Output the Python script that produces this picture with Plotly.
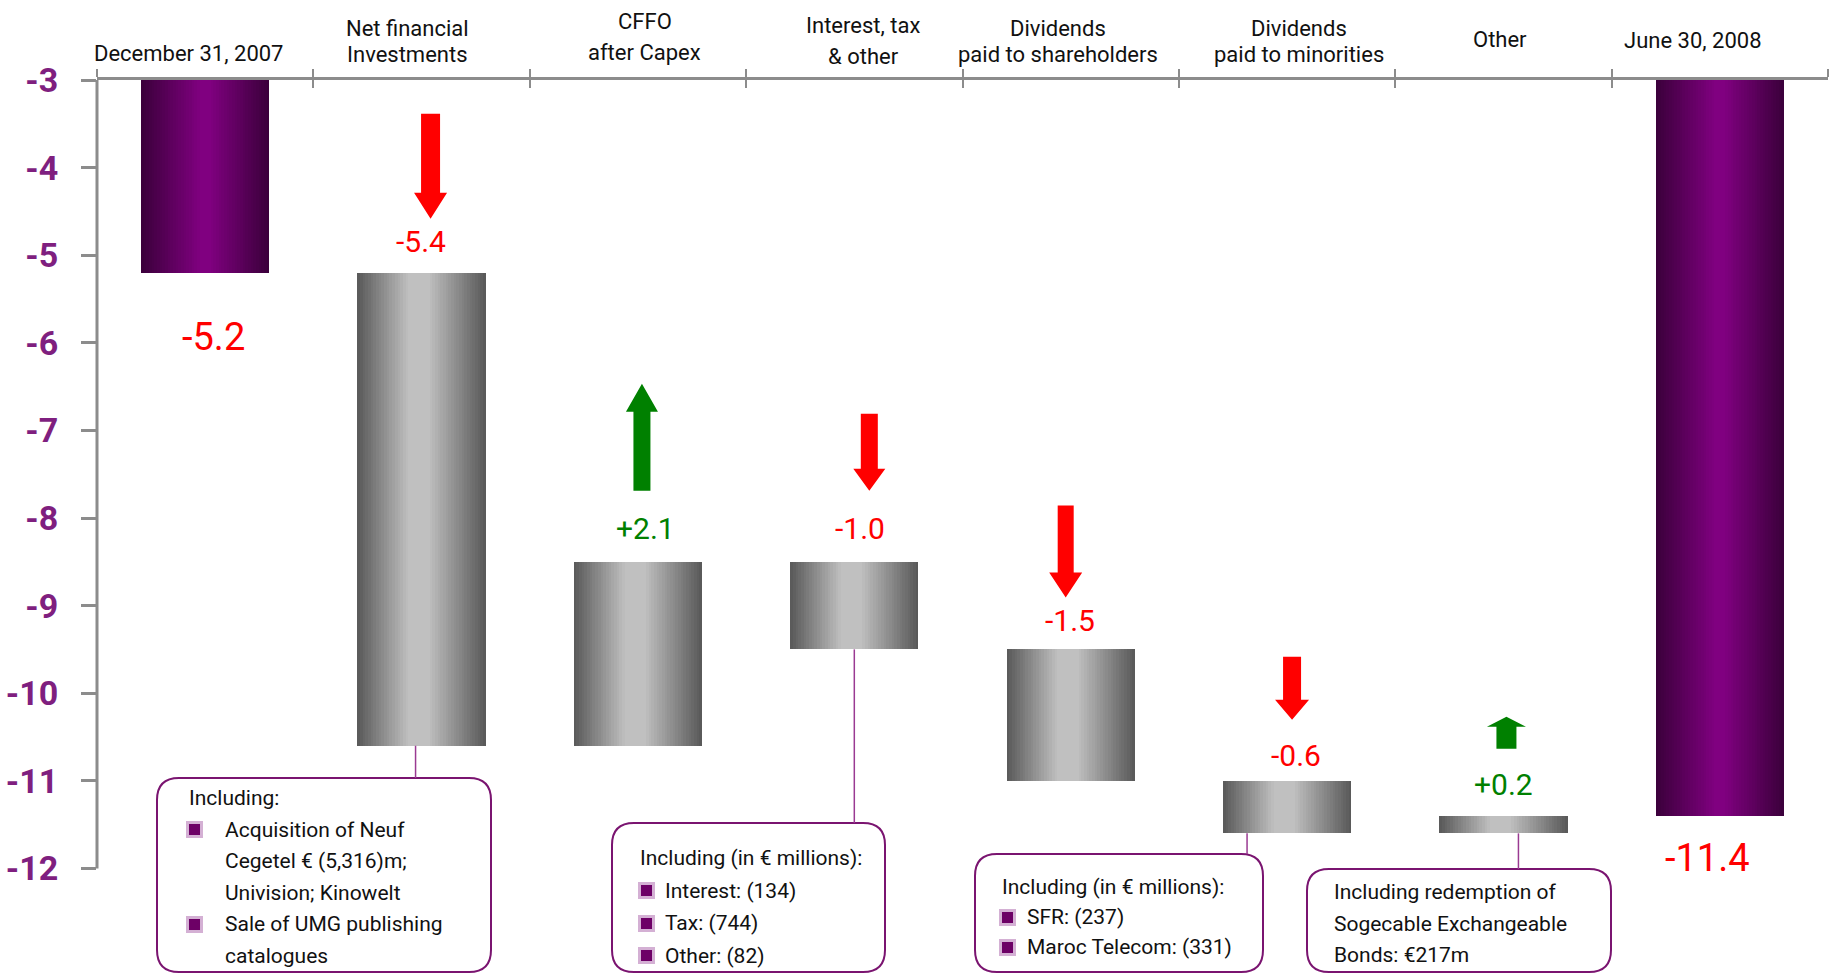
import plotly.graph_objects as go

# ---------------- data ----------------
categories = ["December 31, 2007", "Net financial<br>Investments", "CFFO<br>after Capex",
              "Interest, tax<br>& other", "Dividends<br>paid to shareholders",
              "Dividends<br>paid to minorities", "Other", "June 30, 2008"]
measures = ["total", "relative", "relative", "relative", "relative", "relative", "relative", "total"]
values = [-5.2, -5.4, 2.1, -1.0, -1.5, -0.6, 0.2, -11.4]
y_ticks = [-3, -4, -5, -6, -7, -8, -9, -10, -11, -12]
axis_top = -3

callout_cats = [1, 3, 5, 6]
callout_heads = ["Including:", "Including (in € millions):", "Including (in € millions):", None]
callout_items = [
    [["Acquisition of Neuf", "Cegetel € (5,316)m;", "Univision; Kinowelt"],
     ["Sale of UMG publishing", "catalogues"]],
    [["Interest: (134)"], ["Tax: (744)"], ["Other: (82)"]],
    [["SFR: (237)"], ["Maroc Telecom: (331)"]],
    [["Including redemption of", "Sogecable Exchangeable", "Bonds: €217m"]],
]
callout_bullets = [True, True, True, False]

# ---------------- styling / geometry ----------------
W, H = 1830, 974
ML, MR, MT, MB = 97, 2, 80, 0
PW, PH = W - ML - MR, H - MT - MB
PX_PER_UNIT = 87.6
y_bottom = axis_top - PH / PX_PER_UNIT
n = len(categories)

FONT = "Roboto, Liberation Sans, Arial, sans-serif"
PURPLE = "#7f1f7f"
RED, GREEN = "#ff0000", "#008000"
AXIS_GRAY = "#8c8c8c"
BOX_PURPLE = "#7a1470"
TXT = "#111111"

def xd(px):
    return -0.5 + (px - ML) / PW * n

def yd(py):
    return axis_top - (py - MT) / PX_PER_UNIT

# waterfall geometry from data
bases, heights = [], []
running = None
for m, v in zip(measures, values):
    if m == "total":
        bases.append(axis_top)
        heights.append(v - axis_top)
        running = v
    else:
        bases.append(running)
        heights.append(v)
        running = running + v
tops = [max(b, b + h) for b, h in zip(bases, heights)]
bottoms = [min(b, b + h) for b, h in zip(bases, heights)]

# gradient bars drawn as thin slices
BAR_W = 0.593
NS = 48
def mix(c1, c2, f):
    return "#%02x%02x%02x" % tuple(int(round(a + (b - a) * f)) for a, b in zip(c1, c2))

def prof(t, lo, hi):
    return max(0.0, min(1.0, t / lo, (1 - t) / (1 - hi)))

fig = go.Figure()
sw = BAR_W / NS
for k in range(NS):
    t = (k + 0.5) / NS
    cols = []
    for m in measures:
        if m == "total":
            cols.append(mix((58, 0, 58), (128, 0, 128), prof(t, 0.47, 0.53)))
        else:
            cols.append(mix((88, 88, 88), (192, 192, 192), prof(t, 0.40, 0.55)))
    off = -BAR_W / 2 + k * sw
    wdt = min(sw * 1.6, BAR_W / 2 - off)
    fig.add_trace(go.Bar(x=list(range(n)), y=heights, base=bases, width=wdt, offset=off,
                         marker=dict(color=cols, line=dict(width=0)),
                         hoverinfo="skip", showlegend=False))

# dummy trace on overlay axis for crossing ticks
fig.add_trace(go.Scatter(x=[None], y=[None], xaxis="x2", showlegend=False, hoverinfo="skip"))

annotations = []
shapes = []

# category labels (above top axis)
label_raise = [27, 26, 28, 24, 26, 26, 41, 40]
label_gap = [26, 26, 31, 31, 26, 26, 26, 26]
label_dx = [-17, -14, 7, 9, -13, 12, -3, -27]
for i, lab in enumerate(categories):
    lines = lab.split("<br>")
    for j, ln in enumerate(lines):
        annotations.append(dict(x=i, xref="x", y=1, yref="paper", yanchor="middle", xanchor="center",
                                yshift=label_raise[i] + (len(lines) - 1 - j) * label_gap[i],
                                xshift=label_dx[i], text=ln, showarrow=False,
                                font=dict(family=FONT, size=22, color=TXT)))

# value labels
val_shift = [-64, 31, 33, 33, 29, 25, 31, -42]
val_dx = [8, -1, 8, 6, -1, 9, 0, -12]
for i, (m, v) in enumerate(zip(measures, values)):
    if m == "total":
        txt, anchor, size = f"{v:.1f}", bottoms[i], 38
    else:
        txt, anchor, size = f"{v:+.1f}", tops[i], 30
    annotations.append(dict(x=i, y=anchor, xref="x", yref="y", yanchor="middle", xanchor="center",
                            yshift=val_shift[i], xshift=val_dx[i], text=txt, showarrow=False,
                            font=dict(family=FONT, size=size,
                                      color=GREEN if (v > 0 and m != "total") else RED)))

# arrows (pixel geometry relative to bar top)
arrow_style = {  # cat: (gap, length, shaft w, head w, head len, dx)
    1: (54, 105, 19, 33, 26, 9),
    2: (71, 107, 17, 32, 28, 4),
    3: (71, 77, 17, 32, 22, 15),
    4: (52, 92, 16, 33, 25, -5),
    5: (61, 63, 18, 34, 20, 5),
    6: (67, 32, 20, 39, 10, 3),
}
for i, (g, L, sww, hw, hl, dx) in arrow_style.items():
    v = values[i]
    if v < 0:
        pts = [(dx - sww / 2, g + L), (dx + sww / 2, g + L), (dx + sww / 2, g + hl), (dx + hw / 2, g + hl),
               (dx, g), (dx - hw / 2, g + hl), (dx - sww / 2, g + hl)]
        col = RED
    else:
        pts = [(dx - sww / 2, g), (dx + sww / 2, g), (dx + sww / 2, g + L - hl), (dx + hw / 2, g + L - hl),
               (dx, g + L), (dx - hw / 2, g + L - hl), (dx - sww / 2, g + L - hl)]
        col = GREEN
    path = "M " + " L ".join(f"{x:.1f},{y:.1f}" for x, y in pts) + " Z"
    shapes.append(dict(type="path", xref="x", yref="y", xsizemode="pixel", ysizemode="pixel",
                       xanchor=i, yanchor=tops[i], path=path, fillcolor=col,
                       line=dict(width=0), layer="above"))

# y-axis line
shapes.append(dict(type="line", xref="paper", yref="y", x0=0, x1=0, y0=y_ticks[-1], y1=axis_top,
                   line=dict(color=AXIS_GRAY, width=3), layer="above"))

# callout boxes
box_px = [(157, 778, 491, 972), (612, 823, 885, 972), (975, 854, 1263, 972), (1307, 869, 1611, 972)]
box_text_x = [(187, 223), (638, 663), (1000, 1025), (1332, 1332)]
box_first_y = [798, 858, 887, 892]
box_gap = [31.5, 32.5, 30, 31.6]
bullet_x = [194.5, 646, 1007.5, None]
connector_dx = [-6, 0, -40, 15]
RAD = 22

def rr_path(x0, y0, x1, y1, r):
    P = lambda x, y: f"{xd(x):.5f},{yd(y):.5f}"
    return (f"M {P(x0 + r, y0)} L {P(x1 - r, y0)} Q {P(x1, y0)} {P(x1, y0 + r)} "
            f"L {P(x1, y1 - r)} Q {P(x1, y1)} {P(x1 - r, y1)} L {P(x0 + r, y1)} "
            f"Q {P(x0, y1)} {P(x0, y1 - r)} L {P(x0, y0 + r)} Q {P(x0, y0)} {P(x0 + r, y0)} Z")

for b, cat in enumerate(callout_cats):
    x0, y0, x1, y1 = box_px[b]
    shapes.append(dict(type="path", xref="x", yref="y", path=rr_path(x0, y0, x1, y1, RAD),
                       line=dict(color=BOX_PURPLE, width=2), fillcolor="rgba(255,255,255,0)", layer="above"))
    cx = cat + connector_dx[b] / PW * n
    shapes.append(dict(type="line", xref="x", yref="y", x0=cx, x1=cx, y0=bottoms[cat], y1=yd(y0),
                       line=dict(color="#9a3a92", width=1.5), layer="above"))
    k = 0
    hx, ix = box_text_x[b]
    if callout_heads[b]:
        annotations.append(dict(x=xd(hx), y=yd(box_first_y[b]), xref="x", yref="y", xanchor="left",
                                yanchor="middle", text=callout_heads[b], showarrow=False,
                                font=dict(family=FONT, size=21, color=TXT)))
        k += 1
    for item in callout_items[b]:
        for j, ln in enumerate(item):
            yy = box_first_y[b] + k * box_gap[b]
            if j == 0 and callout_bullets[b]:
                annotations.append(dict(x=xd(bullet_x[b]), y=yd(yy), xref="x", yref="y", xanchor="center",
                                        yanchor="middle", text=" ", showarrow=False, width=11, height=11,
                                        bgcolor="#6d0066", bordercolor="#d4b0d4", borderwidth=3, borderpad=0,
                                        font=dict(size=6)))
            annotations.append(dict(x=xd(ix), y=yd(yy), xref="x", yref="y", xanchor="left",
                                    yanchor="middle", text=ln, showarrow=False,
                                    font=dict(family=FONT, size=21, color=TXT)))
            k += 1

tick_bounds = [i - 0.5 for i in range(n + 1)]
fig.update_layout(
    width=W, height=H, margin=dict(l=ML, r=MR, t=MT, b=MB, pad=0),
    paper_bgcolor="white", plot_bgcolor="white", barmode="overlay", bargap=0,
    showlegend=False,
    xaxis=dict(range=[-0.5, n - 0.5], side="top", showline=True, linecolor=AXIS_GRAY, linewidth=3,
               tickvals=tick_bounds, ticks="outside", ticklen=8, tickwidth=2, tickcolor=AXIS_GRAY,
               showticklabels=False, showgrid=False, zeroline=False, fixedrange=True),
    xaxis2=dict(range=[-0.5, n - 0.5], overlaying="x", side="top", anchor="y", showline=False,
                tickvals=tick_bounds, ticks="inside", ticklen=8, tickwidth=2, tickcolor=AXIS_GRAY,
                showticklabels=False, showgrid=False, zeroline=False),
    yaxis=dict(range=[y_bottom, axis_top], tickvals=y_ticks, ticktext=[str(t) for t in y_ticks],
               ticks="outside", ticklen=15, tickwidth=2.5, tickcolor=AXIS_GRAY, showline=False,
               showgrid=False, zeroline=False, ticklabelstandoff=16,
               tickfont=dict(family=FONT, size=34, color=PURPLE, weight="bold")),
    annotations=annotations, shapes=shapes,
)

fig.write_html("out.html")
